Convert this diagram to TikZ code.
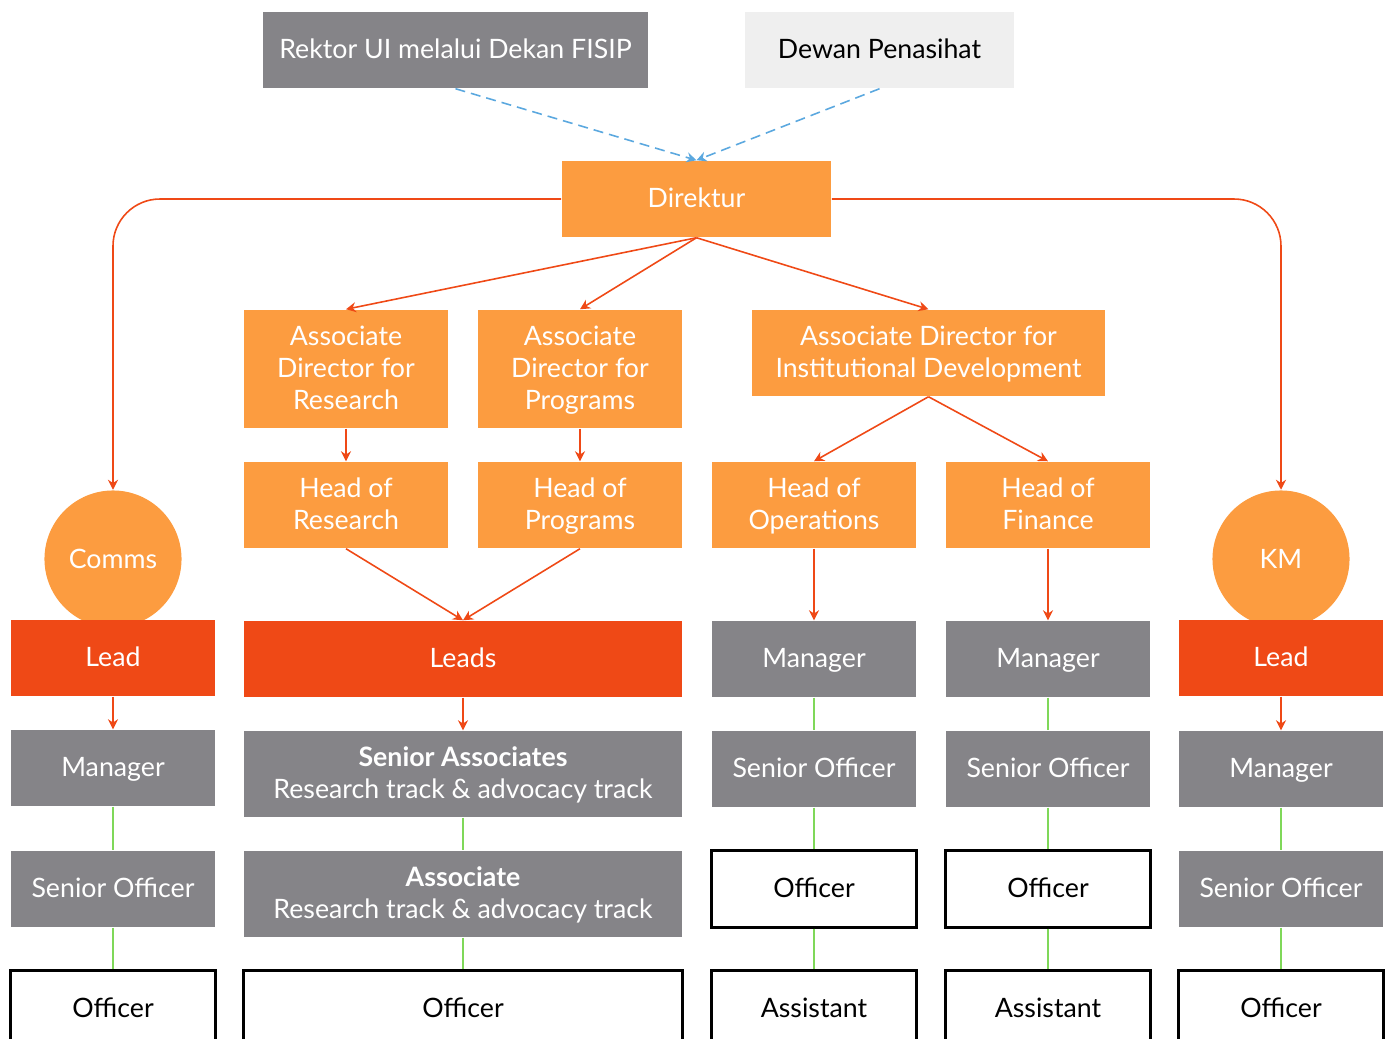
\documentclass[tikz,border=0pt]{standalone}
\usepackage{fontspec}
\setmainfont{Lato}
\usetikzlibrary{arrows.meta}

\definecolor{orbox}{HTML}{FC9C40}
\definecolor{redbox}{HTML}{EF4916}
\definecolor{graybox}{HTML}{858488}
\definecolor{lightbox}{HTML}{EFEFEF}
\definecolor{greenln}{HTML}{7FD859}
\definecolor{blueln}{HTML}{5BA8DF}

% even first and last lines
\newcommand\firstln{\rule{0pt}{1.75ex}}
\newcommand\lastln{\rule[-0.5ex]{0pt}{0.5ex}}

\begin{document}
\begin{tikzpicture}
  [x=0.01cm,y=-0.01cm,
   every node/.style={inner sep=0pt,align=center,font=\fontsize{7.6}{9.1}\selectfont},
   box/.style={rectangle,minimum width=2.04cm,minimum height=0.76cm,text height=1.6ex,text depth=0.65ex},
   multi/.style={text height={},text depth={}},
   orangebox/.style={box,fill=orbox,text=white},
   redbx/.style={box,fill=redbox,text=white},
   graybx/.style={box,fill=graybox,text=white},
   whitebx/.style={box,fill=white,draw=black,line width=0.85pt},
   unit/.style={circle,fill=orbox,text=white,minimum size=1.37cm},
   orline/.style={draw=redbox,line width=0.45pt,-{Stealth[length=1mm,width=1mm]}},
   grline/.style={draw=greenln,line width=0.6pt},
   dashln/.style={draw=blueln,line width=0.45pt,dash pattern=on 1mm off 0.6mm,-{Stealth[length=1mm,width=1mm]}}]
  \useasboundingbox (0,0) rectangle (1390,1039);

  % top
  \node[graybx,minimum width=3.85cm] (rektor) at (455.5,50) {Rektor UI melalui Dekan FISIP};
  \node[box,fill=lightbox,minimum width=2.69cm] (dewan) at (879.5,50) {Dewan Penasihat};
  \node[orangebox,minimum width=2.69cm] (dir) at (696.5,199) {Direktur};

  % associate directors and heads
  \node[orangebox,multi,minimum height=1.18cm] (adres) at (346,369) {\firstln Associate\\Director for\\Research\lastln};
  \node[orangebox,multi,minimum height=1.18cm] (adprog) at (580,369) {\firstln Associate\\Director for\\Programs\lastln};
  \node[orangebox,multi,minimum width=3.53cm,minimum height=0.86cm] (adinst) at (928.5,353) {\firstln Associate Director for\\Institutional Development\lastln};
  \node[orangebox,multi,minimum height=0.86cm] (hres) at (346,505) {\firstln Head of\\Research\lastln};
  \node[orangebox,multi,minimum height=0.86cm] (hprog) at (580,505) {\firstln Head of\\Programs\lastln};
  \node[orangebox,multi,minimum height=0.86cm] (hops) at (814,505) {\firstln Head of\\Operations\lastln};
  \node[orangebox,multi,minimum height=0.86cm] (hfin) at (1048,505) {\firstln Head of\\Finance\lastln};

  \node[unit] (comms) at (113,559) {Comms};
  \node[unit] (km) at (1281,559) {KM};

  % columns
  \node[redbx] (leadc) at (113,658) {Lead};
  \node[redbx,minimum width=4.38cm] (leads) at (463,659) {Leads};
  \node[graybx] (mgrops) at (814,659) {Manager};
  \node[graybx] (mgrfin) at (1048,659) {Manager};
  \node[redbx] (leadk) at (1281,658) {Lead};

  \node[graybx] (mgrc) at (113,768) {Manager};
  \node[graybx,multi,minimum width=4.38cm,minimum height=0.86cm] (sassoc) at (463,774) {\firstln{\bfseries Senior Associates}\\Research track \& advocacy track\lastln};
  \node[graybx] (soops) at (814,769) {Senior Officer};
  \node[graybx] (sofin) at (1048,769) {Senior Officer};
  \node[graybx] (mgrk) at (1281,769) {Manager};

  \node[graybx] (soc) at (113,889) {Senior Officer};
  \node[graybx,multi,minimum width=4.38cm,minimum height=0.86cm] (assoc) at (463,894) {\firstln{\bfseries Associate}\\Research track \& advocacy track\lastln};
  \node[whitebx] (offops) at (814,889) {Officer};
  \node[whitebx] (offfin) at (1048,889) {Officer};
  \node[graybx] (sok) at (1281,889) {Senior Officer};

  \node[whitebx] (offc) at (113,1009) {Officer};
  \node[whitebx,minimum width=4.38cm] (offmid) at (463,1009) {Officer};
  \node[whitebx] (asstops) at (814,1009) {Assistant};
  \node[whitebx] (asstfin) at (1048,1009) {Assistant};
  \node[whitebx] (offk) at (1281,1009) {Officer};

  % advisory
  \draw[dashln] (rektor.south) -- (dir.north);
  \draw[dashln] (dewan.south) -- (dir.north);

  % line of command
  \draw[orline,rounded corners=0.47cm] (dir.west) -| (comms.north);
  \draw[orline,rounded corners=0.47cm] (dir.east) -| (km.north);
  \foreach \to in {adres,adprog,adinst}
    \draw[orline] (dir.south) -- (\to.north);
  \foreach \from/\to in {adres/hres,adprog/hprog,adinst/hops,adinst/hfin,hres/leads,hprog/leads,hops/mgrops,hfin/mgrfin,leadc/mgrc,leads/sassoc,leadk/mgrk}
    \draw[orline] (\from.south) -- (\to.north);

  \foreach \from/\to in {mgrc/soc,soc/offc,sassoc/assoc,assoc/offmid,mgrops/soops,soops/offops,offops/asstops,mgrfin/sofin,sofin/offfin,offfin/asstfin,mgrk/sok,sok/offk}
    \draw[grline] (\from.south) -- (\to.north);

\end{tikzpicture}
\end{document}
